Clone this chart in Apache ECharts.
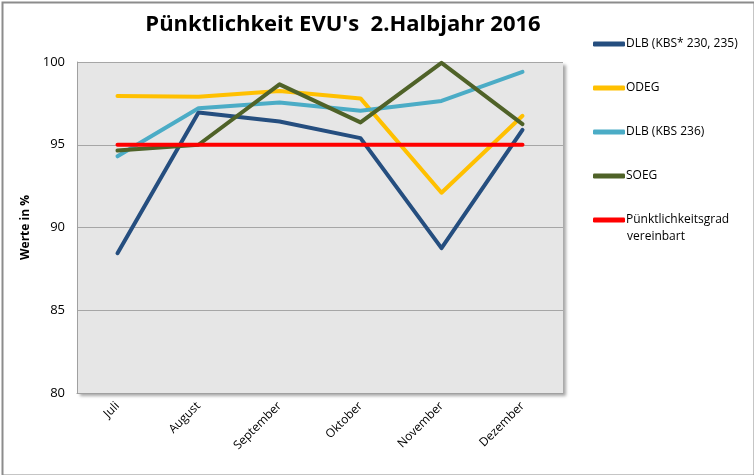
<!DOCTYPE html>
<html><head><meta charset="utf-8">
<script src="https://cdn.jsdelivr.net/npm/echarts@6/dist/echarts.min.js"></script>
<style>html,body{margin:0;padding:0;background:#fff}#c{width:754px;height:475px}</style>
</head><body><div id="c"></div>
<script>
const categories = ['Juli','August','September','Oktober','November','Dezember'];
const dlb230 = [88.45, 96.95, 96.4, 95.4, 88.75, 95.9];
const odeg = [97.95, 97.9, 98.25, 97.8, 92.1, 96.75];
const dlb236 = [94.3, 97.2, 97.55, 97.05, 97.65, 99.4];
const soeg = [94.65, 95.0, 98.65, 96.35, 99.95, 96.25];
const zielwert = [95, 95, 95, 95, 95, 95];
const yTicks = {min: 80, max: 100, interval: 5};

const names = ['DLB (KBS* 230, 235)','ODEG','DLB (KBS 236)','SOEG','Pünktlichkeitsgrad vereinbart'];
const colors = ['#254e7f','#ffc000','#4bacc6','#4f6228','#ff0000'];
const datas = [dlb230, odeg, dlb236, soeg, zielwert];
const font = '"Open Sans", sans-serif';

const chart = echarts.init(document.getElementById('c'), null, {renderer:'canvas'});
chart.setOption({
  animation:false,
  backgroundColor:'#fff',
  title:{text:"Pünktlichkeit EVU's  2.Halbjahr 2016", left:338, top:9, textAlign:'center',
    textStyle:{fontFamily:font, fontWeight:'bold', fontSize:22, color:'#000'}},
  grid:{left:77, right:191, top:62, bottom:82, show:true, backgroundColor:'#e6e6e6', borderWidth:0,
    shadowColor:'rgba(0,0,0,0.35)', shadowBlur:3, shadowOffsetX:3, shadowOffsetY:3},
  legend:{orient:'vertical', left:588, top:31, itemWidth:32, itemHeight:5, itemGap:28,
    icon:'roundRect',
    data:names,
    formatter:function(n){return n==='Pünktlichkeitsgrad vereinbart'?'Pünktlichkeitsgrad':n;},
    textStyle:{fontFamily:font, fontSize:12, color:'#000', padding:[0,0,0,-4], lineHeight:16}},
  graphic:[
    {type:'rect', left:0, top:0, shape:{x:1,y:1,width:752,height:473}, style:{fill:'none', stroke:'#8c8c8c', lineWidth:2}, silent:true},
    {type:'text', left:627, top:231, style:{text:'vereinbart', fontFamily:font, fontSize:12, fill:'#000'}}
  ],
  xAxis:{type:'category', data:categories, boundaryGap:true,
    axisLine:{show:true, lineStyle:{color:'#a0a0a0', width:1}},
    axisTick:{show:false},
    axisLabel:{rotate:45, fontFamily:font, fontSize:12, color:'#000', margin:11}},
  yAxis:{type:'value', min:yTicks.min, max:yTicks.max, interval:yTicks.interval,
    name:'Werte in %', nameLocation:'middle', nameGap:35,
    nameTextStyle:{fontFamily:font, fontWeight:'bold', fontSize:12, color:'#000'},
    axisLine:{show:true, lineStyle:{color:'#a0a0a0'}},
    axisTick:{show:false},
    splitLine:{show:true, lineStyle:{color:'#a6a6a6', width:1}},
    axisLabel:{fontFamily:font, fontSize:13, color:'#000', margin:12}},
  series:names.map((n,i)=>({
    name:n, type:'line', data:datas[i], symbol:'none', showSymbol:false,
    itemStyle:{color:colors[i]},
    lineStyle:{color:colors[i], width:4, cap:'round', join:'round'}
  }))
});
</script></body></html>
